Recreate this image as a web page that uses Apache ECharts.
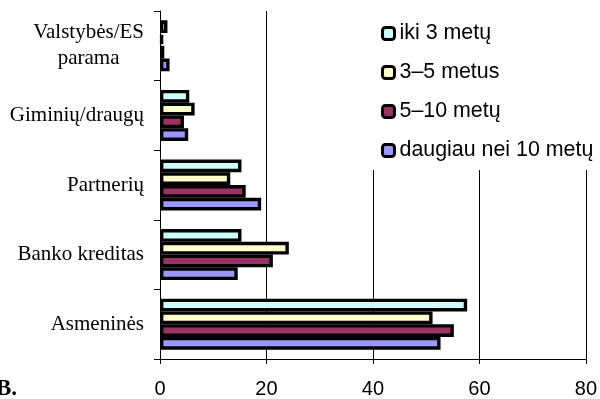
<!DOCTYPE html>
<html>
<head>
<meta charset="utf-8">
<script src="https://cdn.jsdelivr.net/npm/echarts@6/dist/echarts.min.js"></script>
<style>
  html, body { margin: 0; padding: 0; background: #fff; }
  #chart { width: 600px; height: 399px; }
</style>
</head>
<body>
<div id="chart"></div>
<script>
// kategorijos (is virsaus i apacia)
var categories = ['Valstybės/ES\nparama', 'Giminių/draugų', 'Partnerių', 'Banko kreditas', 'Asmeninės'];
var seriesNames = ['iki 3 metų', '3–5 metus', '5–10 metų', 'daugiau nei 10 metų'];
var iki3 = [1.4, 5.5, 15.3, 15.3, 57.7];
var nuo3iki5 = [0.6, 6.5, 13.2, 24.2, 51.2];
var nuo5iki10 = [0.8, 4.5, 16.1, 21.2, 55.2];
var virs10 = [1.8, 5.3, 19.0, 14.6, 52.7];
var xTicks = [0, 20, 40, 60, 80];
var colors = ['#CCFFFF', '#FFFFCC', '#993366', '#9999FF'];

var myChart = echarts.init(document.getElementById('chart'));

function makeSeries(name, data, color){
	return {
		name: name,
		type: 'bar',
		data: data,
		barGap: '0%',
		barCategoryGap: '26.7%',
		itemStyle: { color: color, borderColor: '#000', borderWidth: 3.4 },
		emphasis: { disabled: true }
	};
}

var option = {
	animation: false,
	backgroundColor: '#fff',
	grid: { left: 160, right: 13, top: 11, bottom: 40, containLabel: false },
	legend: {
		orient: 'vertical',
		left: 370,
		top: 11,
		padding: [12, 8, 9, 11],
		backgroundColor: '#fff',
		itemWidth: 12,
		itemHeight: 12,
		itemGap: 18,
		itemStyle: { borderColor: '#000', borderWidth: 3 },
		textStyle: { fontFamily: 'Liberation Sans, Arial', fontSize: 21.4, color: '#000' },
		data: seriesNames
	},
	xAxis: {
		type: 'value',
		min: xTicks[0],
		max: xTicks[xTicks.length - 1],
		interval: 20,
		axisLine: { show: true, lineStyle: { color: '#000', width: 1 } },
		axisTick: { show: true, length: 5, lineStyle: { color: '#000' } },
		splitLine: { show: true, lineStyle: { color: '#000', width: 1 } },
		axisLabel: { fontFamily: 'Liberation Sans, Arial', fontSize: 20, color: '#000', margin: 20 }
	},
	yAxis: {
		type: 'category',
		inverse: true,
		data: categories,
		axisLine: { show: true, lineStyle: { color: '#000', width: 1 } },
		axisTick: { show: true, length: 6, lineStyle: { color: '#000' } },
		axisLabel: {
			fontFamily: 'Liberation Serif, Times New Roman',
			fontSize: 21,
			color: '#000',
			margin: 16,
			align: 'right',
			formatter: function(v){
				return v.split('\n').map(function(s){ return '{c|' + s + '}'; }).join('\n');
			},
			rich: {
				c: { align: 'center', fontFamily: 'Liberation Serif, Times New Roman', fontSize: 21, color: '#000', lineHeight: 26 }
			}
		}
	},
	graphic: [{
		type: 'text',
		left: -4,
		top: 378,
		style: { text: 'B.', fontFamily: 'Liberation Serif, Times New Roman', fontWeight: 'bold', fontSize: 23, fill: '#000' }
	}],
	series: [
		makeSeries(seriesNames[0], iki3, colors[0]),
		makeSeries(seriesNames[1], nuo3iki5, colors[1]),
		makeSeries(seriesNames[2], nuo5iki10, colors[2]),
		makeSeries(seriesNames[3], virs10, colors[3])
	]
};
myChart.setOption(option);
</script>
</body>
</html>
